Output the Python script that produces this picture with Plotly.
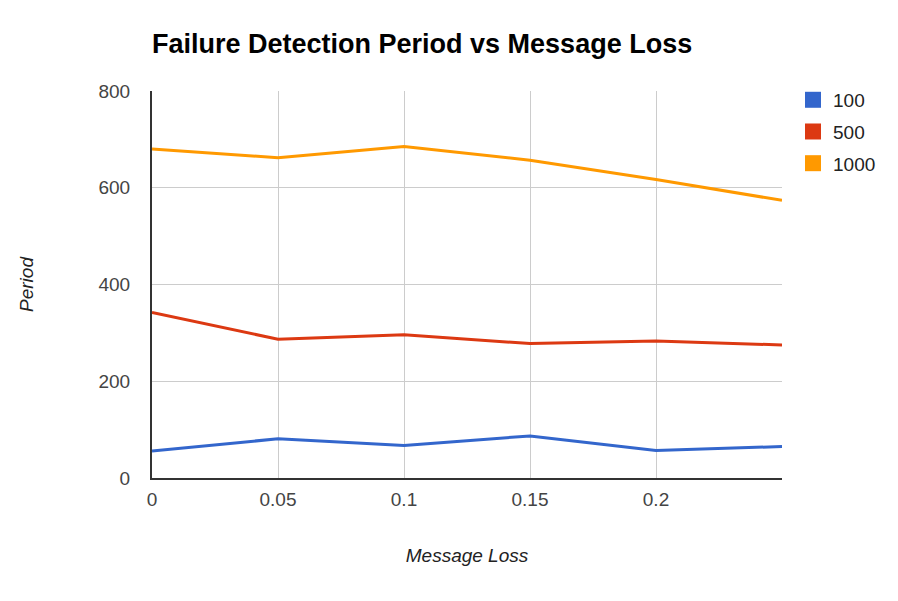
import plotly.graph_objects as go

message_loss = [0, 0.05, 0.1, 0.15, 0.2, 0.25]
series_names = ["100", "500", "1000"]
period_100 = [56, 81, 67, 87, 57, 65]
period_500 = [342, 287, 296, 278, 283, 275]
period_1000 = [680, 662, 685, 657, 617, 574]
x_tick_vals = [0, 0.05, 0.1, 0.15, 0.2]
x_tick_text = ["0", "0.05", "0.1", "0.15", "0.2"]
y_tick_vals = [0, 200, 400, 600, 800]

colors = ["#3366cc", "#dc3912", "#ff9900"]
all_series = [period_100, period_500, period_1000]

fig = go.Figure()
for name, vals, c in zip(series_names, all_series, colors):
    fig.add_trace(go.Scatter(x=message_loss, y=vals, mode="lines", name=name,
                             line=dict(color=c, width=3), showlegend=False,
                             cliponaxis=False))
for name, c in zip(series_names, colors):
    fig.add_trace(go.Scatter(x=[None], y=[None], mode="markers", name=name,
                             legendgroup=name,
                             marker=dict(symbol="square", size=20, color=c)))

font = "Liberation Sans, Arial, sans-serif"
# page has an 8px body margin, so the figure is shrunk by 8px
W, H = 890, 593
fig.update_layout(
    width=W, height=H,
    margin=dict(l=144, r=116, t=83, b=123),
    paper_bgcolor="white", plot_bgcolor="white",
    font=dict(family=font, size=19, color="#444444"),
    title=dict(text="<b>Failure Detection Period vs Message Loss</b>",
               x=144/W, xanchor="left", y=1-36/H, yanchor="middle",
               font=dict(family=font, size=27, color="#000000")),
    xaxis=dict(range=[0, 0.25], tickvals=x_tick_vals, ticktext=x_tick_text,
               showgrid=True, gridcolor="#cccccc", gridwidth=1,
               showline=True, linecolor="#333333", linewidth=2,
               zeroline=False, ticks="", ticklen=0, ticklabelstandoff=3,
               tickfont=dict(size=19, color="#444444"),
               title=dict(text="<i>Message Loss</i>", standoff=40,
                          font=dict(size=19, color="#222222"))),
    yaxis=dict(range=[0, 800], tickvals=y_tick_vals,
               showgrid=True, gridcolor="#cccccc", gridwidth=1,
               showline=True, linecolor="#333333", linewidth=2,
               zeroline=False, ticks="", ticklen=0, ticklabelstandoff=16,
               tickfont=dict(size=19, color="#444444"),
               title=dict(text="<i>Period</i>", standoff=60,
                          font=dict(size=19, color="#222222"))),
    legend=dict(x=1.0175, xanchor="left", y=1.026, yanchor="top",
                font=dict(size=19, color="#222222"),
                tracegroupgap=4, itemwidth=30, bgcolor="rgba(0,0,0,0)"),
)

fig.write_html("out.html")
